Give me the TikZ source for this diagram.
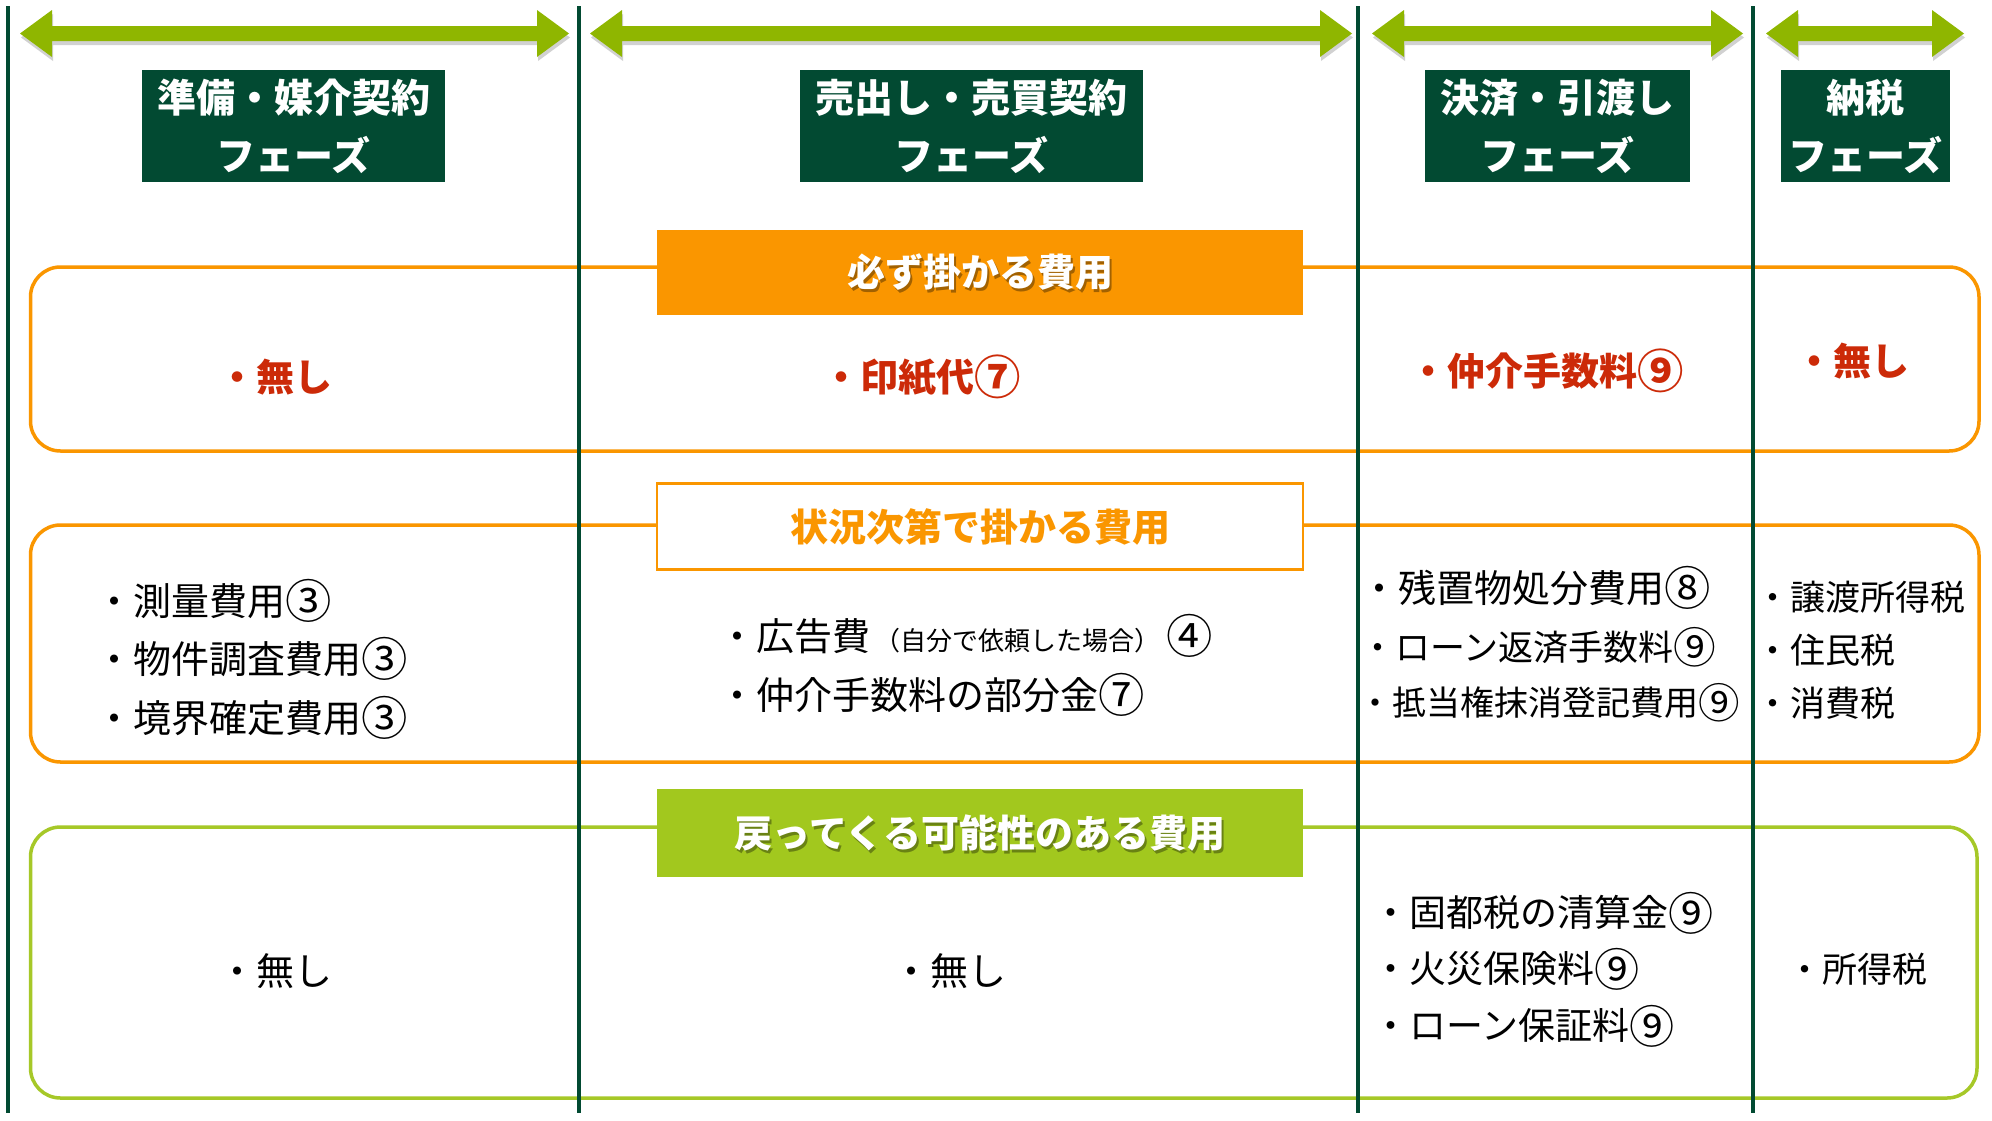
\documentclass[tikz,border=0pt]{standalone}
\usepackage{graphicx}
\usepackage{fontspec}
\newfontfamily\jp{Noto Sans CJK JP}
\newcommand\circnum[1]{\raisebox{-0.09em}{\scalebox{1.22}{#1}}}
\definecolor{dkgreen}{RGB}{2,74,50}
\definecolor{arrowgreen}{RGB}{143,182,0}
\definecolor{boxorange}{RGB}{250,150,0}
\definecolor{boxgreen}{RGB}{162,200,30}
\definecolor{linegreen}{RGB}{166,200,40}
\definecolor{costred}{RGB}{204,42,8}
\begin{document}
\begin{tikzpicture}[x=1pt,y=-1pt,
  every node/.style={inner sep=0pt,outer sep=0pt},
  vline/.style={draw=dkgreen,line width=4pt},
  phasebox/.style={fill=dkgreen,text=white,align=center,font=\jp\bfseries\fontsize{39}{58}\selectfont},
  grouporange/.style={draw=boxorange,line width=3.5pt,rounded corners=30pt},
  groupgreen/.style={draw=linegreen,line width=3.5pt,rounded corners=30pt},
  labeltext/.style={font=\jp\bfseries\fontsize{38}{40}\selectfont},
  shadowtext/.style={labeltext,text=black,opacity=0.35},
  redtext/.style={anchor=west,text=costred,font=\jp\bfseries\fontsize{38}{40}\selectfont},
  bodytext/.style={anchor=west,text=black,font=\jp\fontsize{38}{40}\selectfont},
  smalltext/.style={anchor=west,text=black,font=\jp\fontsize{35}{37}\selectfont},
  midtext/.style={anchor=west,text=black,font=\jp\fontsize{37}{39}\selectfont}
]
\useasboundingbox[fill=white] (0,0) rectangle (1992,1120);

% phase arrows
\foreach \a/\b in {20/569,590/1352,1372/1743,1766/1964}{
  \fill[black,opacity=0.18,shift={(1,4)}] (\a,33.5) -- (\a+32,10) -- (\a+32,26) -- (\b-32,26) -- (\b-32,10) -- (\b,33.5) -- (\b-32,57) -- (\b-32,41) -- (\a+32,41) -- (\a+32,57) -- cycle;
  \fill[arrowgreen] (\a,33.5) -- (\a+32,10) -- (\a+32,26) -- (\b-32,26) -- (\b-32,10) -- (\b,33.5) -- (\b-32,57) -- (\b-32,41) -- (\a+32,41) -- (\a+32,57) -- cycle;
}

% group frames
\draw[grouporange] (30.5,267) rectangle (1979,451);
\draw[grouporange] (30.5,525) rectangle (1979,762);
\draw[groupgreen] (30.5,827) rectangle (1977,1098);

% column separators
\coordinate (v1t) at (7.6,6);   \coordinate (v1b) at (7.6,1113);
\coordinate (v2t) at (579,6);   \coordinate (v2b) at (579,1113);
\coordinate (v3t) at (1358,6);  \coordinate (v3b) at (1358,1113);
\coordinate (v4t) at (1753,6);  \coordinate (v4b) at (1753,1113);
\draw[vline] (v1t) -- (v1b);
\draw[vline] (v2t) -- (v2b);
\draw[vline] (v3t) -- (v3b);
\draw[vline] (v4t) -- (v4b);

% phase headers
\node[phasebox,minimum width=303,minimum height=112] (p1) at (293.5,126) {準備・媒介契約\\フェーズ};
\node[phasebox,minimum width=343,minimum height=112] (p2) at (971.5,126) {売出し・売買契約\\フェーズ};
\node[phasebox,minimum width=265,minimum height=112] (p3) at (1557.5,126) {決済・引渡し\\フェーズ};
\node[phasebox,minimum width=169,minimum height=112] (p4) at (1865.5,126) {納税\\フェーズ};

% category labels
\node[fill=boxorange,minimum width=646,minimum height=85] (c1) at (980,272.5) {};
\node[shadowtext] (c1s) at (982,275.5) {必ず掛かる費用};
\node[labeltext,text=white] (c1t) at (980,272.5) {必ず掛かる費用};

\node[fill=white,draw=boxorange,line width=2.5pt,minimum width=646,minimum height=86] (c2) at (980,526.5) {};
\node[labeltext,text=boxorange] (c2t) at (980,526.5) {状況次第で掛かる費用};

\node[fill=boxgreen,minimum width=646,minimum height=88] (c3) at (980,833) {};
\node[shadowtext] (c3s) at (982,836) {戻ってくる可能性のある費用};
\node[labeltext,text=white] (c3t) at (980,833) {戻ってくる可能性のある費用};

% row 1
\node[redtext] (r1a) at (218,377) {・無し};
\node[redtext] (r1b) at (822,377) {・印紙代\circnum{⑦}};
\node[redtext] (r1c) at (1409,371) {・仲介手数料\circnum{⑨}};
\node[redtext] (r1d) at (1795,361) {・無し};

% row 2
\node[bodytext] (l2a) at (95,601) {・測量費用\circnum{③}};
\node[bodytext] (l2b) at (95,659) {・物件調査費用\circnum{③}};
\node[bodytext] (l2c) at (95,718) {・境界確定費用\circnum{③}};
\node[bodytext] (m2a) at (718,636) {・広告費\hspace{4pt}{\fontsize{26}{28}\selectfont （自分で依頼した場合）}\hspace{6pt}\circnum{④}};
\node[bodytext] (m2b) at (718,695) {・仲介手数料の部分金\circnum{⑦}};
\node[bodytext] (c2a) at (1360,588) {・残置物処分費用\circnum{⑧}};
\node[smalltext] (c2b) at (1360,647) {・ローン返済手数料\circnum{⑨}};
\node[smalltext,font=\jp\fontsize{34}{36}\selectfont] (c2c) at (1358,703) {・抵当権抹消登記費用\circnum{⑨}};
\node[smalltext] (d2a) at (1755,597) {・譲渡所得税};
\node[smalltext] (d2b) at (1755,650) {・住民税};
\node[smalltext] (d2c) at (1755,703) {・消費税};

% row 3
\node[bodytext] (l3) at (218,971) {・無し};
\node[bodytext] (m3) at (892,971) {・無し};
\node[midtext] (c3a) at (1372,913) {・固都税の清算金\circnum{⑨}};
\node[midtext] (c3b) at (1372,969) {・火災保険料\circnum{⑨}};
\node[midtext] (c3c) at (1372,1026) {・ローン保証料\circnum{⑨}};
\node[smalltext] (d3) at (1787,969) {・所得税};
\end{tikzpicture}
\end{document}
